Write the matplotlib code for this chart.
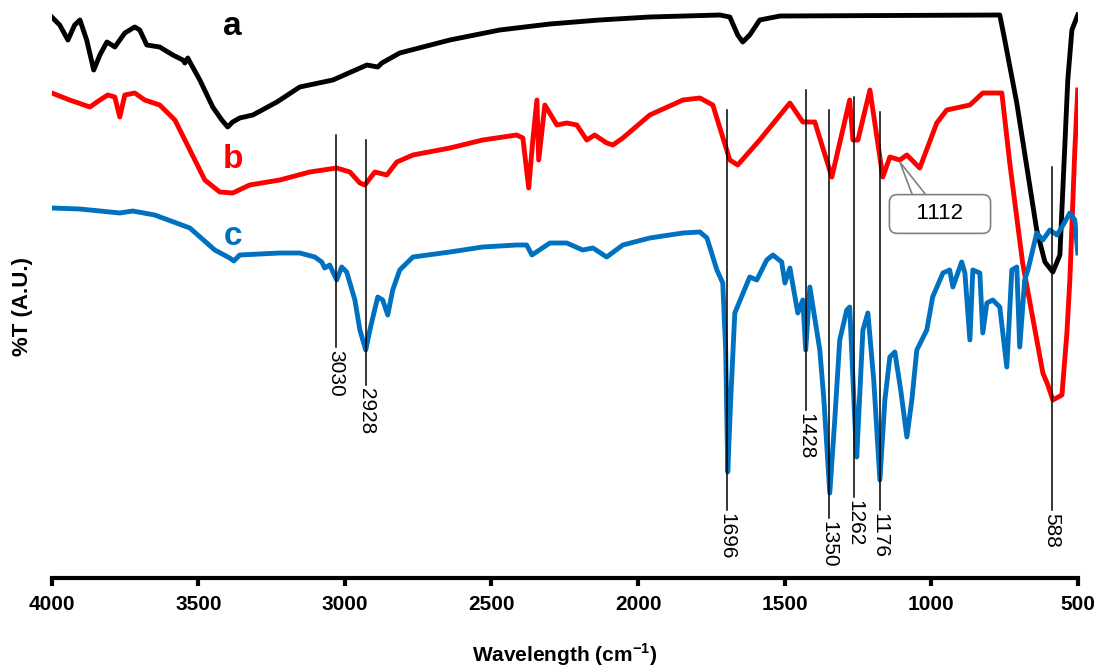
import numpy as np
import matplotlib
matplotlib.use("Agg")
import matplotlib.pyplot as plt

plt.rcParams['font.family'] = ['Liberation Sans', 'DejaVu Sans']
plt.rcParams['mathtext.fontset'] = 'custom'
plt.rcParams['mathtext.rm'] = 'Liberation Sans'
plt.rcParams['mathtext.bf'] = 'Liberation Sans:bold'

# spectrum a (black)
wn_a = [4000, 3973, 3945, 3922, 3904, 3881, 3857, 3836, 3812, 3795, 3785, 3751, 3717, 3700, 3676,
        3632, 3587, 3553, 3546, 3536, 3529, 3495, 3451, 3420, 3400, 3383, 3359, 3314, 3232, 3154,
        3041, 2925, 2888, 2874, 2813, 2642, 2472, 2301, 2131, 1960, 1721, 1687, 1660, 1643, 1619,
        1585, 1516, 766, 749, 708, 640, 612, 585, 561, 534, 520, 500]
t_a = [561, 553, 538, 553, 558, 538, 508, 523, 536, 533, 531, 545, 551, 548, 533,
       531, 523, 518, 515, 520, 516, 498, 471, 458, 451, 456, 460, 463, 476, 491,
       498, 513, 511, 515, 525, 538, 548, 554, 558, 561, 563, 561, 543, 536, 543,
       558, 562, 563, 538, 475, 348, 316, 306, 323, 498, 548, 563]

# spectrum b (red)
wn_b = [4000, 3939, 3870, 3836, 3809, 3785, 3768, 3751, 3717, 3683, 3632, 3580, 3529, 3478, 3427,
        3383, 3325, 3222, 3120, 3028, 2983, 2949, 2932, 2898, 2857, 2823, 2768, 2642, 2530, 2414,
        2393, 2373, 2359, 2345, 2339, 2318, 2277, 2243, 2209, 2175, 2148, 2107, 2086, 2052, 1960,
        1847, 1789, 1745, 1687, 1660, 1585, 1482, 1438, 1397, 1339, 1278, 1267, 1250, 1209, 1165,
        1141, 1107, 1083, 1039, 981, 947, 868, 824, 759, 732, 688, 619, 602, 585, 554,
        537, 527, 510, 500]
t_b = [485, 478, 471, 478, 483, 481, 461, 483, 485, 478, 473, 458, 428, 398, 386,
       385, 393, 398, 406, 410, 406, 395, 393, 406, 403, 416, 423, 430, 438, 443,
       440, 390, 438, 478, 418, 473, 453, 455, 453, 438, 443, 435, 433, 440, 463,
       478, 480, 473, 418, 413, 438, 475, 456, 456, 401, 478, 438, 438, 488, 401,
       421, 418, 423, 410, 455, 468, 473, 485, 485, 415, 315, 205, 193, 178, 183,
       245, 298, 428, 488]

# spectrum c (blue)
wn_c = [4000, 3904, 3768, 3724, 3649, 3529, 3444, 3393, 3379, 3359, 3222, 3154, 3103, 3079, 3069,
        3052, 3028, 3011, 2994, 2966, 2949, 2929, 2915, 2888, 2871, 2854, 2837, 2813, 2768, 2642,
        2530, 2414, 2380, 2362, 2301, 2243, 2189, 2154, 2107, 2052, 1960, 1847, 1789, 1765, 1731,
        1711, 1701, 1694, 1684, 1670, 1619, 1595, 1561, 1540, 1510, 1499, 1482, 1455, 1438, 1428,
        1414, 1380, 1366, 1346, 1329, 1312, 1288, 1278, 1261, 1254, 1233, 1216, 1196, 1175, 1158,
        1141, 1124, 1104, 1083, 1066, 1049, 1015, 995, 960, 937, 926, 896, 885, 868, 858,
        834, 824, 810, 790, 766, 742, 725, 708, 698, 681, 670, 640, 619, 595, 571,
        554, 527, 510, 500]
t_c = [370, 369, 365, 367, 363, 350, 328, 320, 317, 323, 325, 325, 321, 316, 310,
       313, 298, 311, 306, 278, 248, 228, 248, 281, 278, 263, 288, 308, 321, 326,
       331, 333, 333, 323, 335, 335, 328, 330, 321, 333, 340, 345, 346, 340, 308,
       295, 228, 106, 178, 265, 301, 298, 318, 323, 316, 295, 310, 265, 278, 228,
       291, 228, 178, 85, 158, 238, 268, 271, 161, 121, 248, 265, 198, 98, 178,
       221, 226, 188, 141, 178, 228, 248, 281, 305, 308, 291, 316, 305, 238, 308,
       305, 245, 275, 278, 271, 211, 308, 311, 231, 298, 308, 345, 338, 348, 343,
       351, 365, 358, 325]

# peak markers
peaks = [3030, 2928, 1696, 1428, 1350, 1262, 1176, 588]
peak_top = [443, 438, 468, 488, 468, 481, 466, 411]
peak_bottom = [231, 193, 68, 168, 60, 81, 68, 68]

fig = plt.figure(figsize=(11.02, 6.71), dpi=100)
ax = fig.add_axes([0.047, 0.1386, 0.931, 0.8614])

ax.plot(wn_a, t_a, color='black', lw=3.5, solid_joinstyle='round')
ax.plot(wn_b, t_b, color='#FF0000', lw=3.5, solid_joinstyle='round')
ax.plot(wn_c, t_c, color='#0070C0', lw=3.5, solid_joinstyle='round')

for p, top, bot in zip(peaks, peak_top, peak_bottom):
    ax.plot([p, p], [bot, top], color='black', lw=1.1)
    ax.text(p, bot - 3, str(p), rotation=270, ha='center', va='top', fontsize=15)

# callout for 1112
ax.annotate('', xy=(1107, 416), xytext=(1039, 381),
            arrowprops=dict(arrowstyle='wedge,tail_width=0.9', fc='white', ec='#808080', lw=1.2,
                            shrinkA=0, shrinkB=0), zorder=4)
ax.text(970, 364, '   1112   ', ha='center', va='center', fontsize=16, zorder=5,
        bbox=dict(boxstyle='round,pad=0.4,rounding_size=0.35', fc='white', ec='#808080', lw=1.2))

ax.text(3383, 551, 'a', color='black', fontsize=24, fontweight='bold', ha='center', va='center')
ax.text(3383, 418, 'b', color='#FF0000', fontsize=24, fontweight='bold', ha='center', va='center')
ax.text(3383, 341, 'c', color='#0070C0', fontsize=24, fontweight='bold', ha='center', va='center')

ax.set_xlim(4000, 500)
ax.set_ylim(0, 578)
ax.set_xticks(np.arange(4000, 499, -500))
ax.set_yticks([])
for side in ['top', 'right', 'left']:
    ax.spines[side].set_visible(False)
ax.spines['bottom'].set_linewidth(3)
ax.tick_params(axis='x', direction='out', length=6, width=3, labelsize=15, pad=6)
for lab in ax.get_xticklabels():
    lab.set_fontweight('bold')

ax.set_xlabel('Wavelength (cm$^{\\mathbf{-1}}$)', fontsize=15, fontweight='bold')
ax.xaxis.set_label_coords(0.5, -0.11)
ax.set_ylabel('%T (A.U.)', fontsize=16, fontweight='bold')
ax.yaxis.set_label_coords(-0.0185, 0.47)

fig.savefig('out.png', dpi=100)
